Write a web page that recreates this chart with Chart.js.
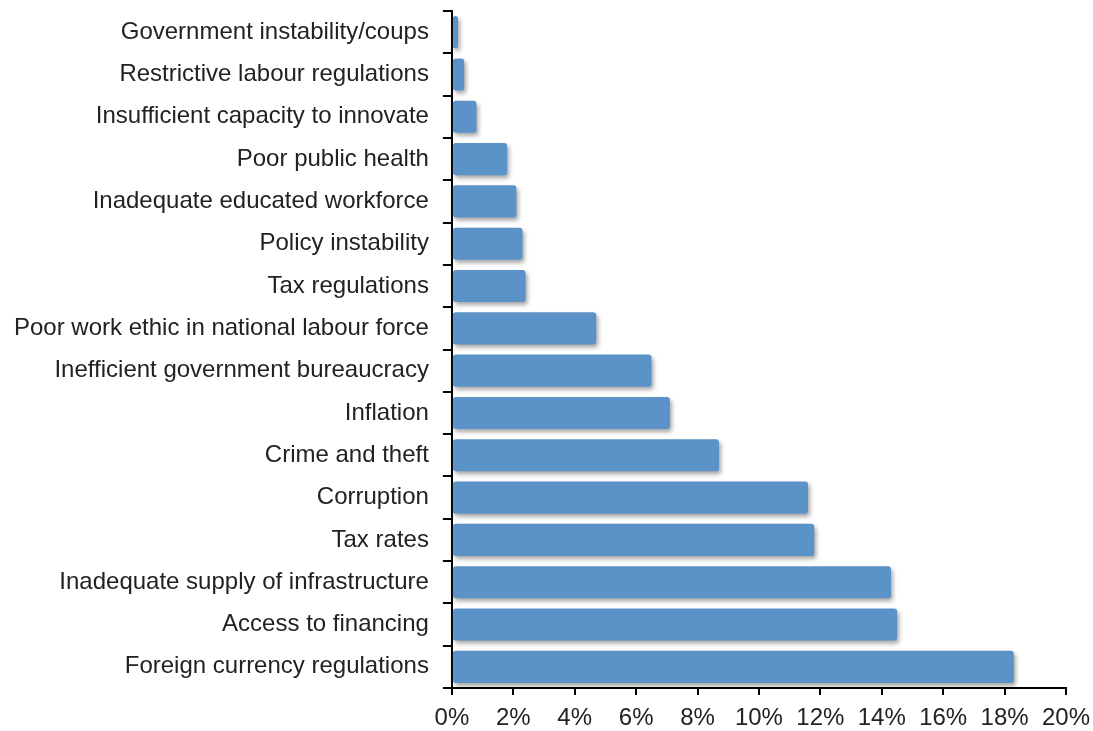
<!DOCTYPE html>
<html lang="en">
<head>
    <meta charset="UTF-8">
    <title>Most problematic factors for doing business</title>
    <script src="https://cdn.jsdelivr.net/npm/chart.js@4"></script>
    <style>
        body { margin: 0; background: #fff; }
    </style>
</head>
<body>
    <canvas id="barChart" width="1093" height="731"></canvas>
    <script>
        // factors, top to bottom
        const factors = [
            'Government instability/coups',
            'Restrictive labour regulations',
            'Insufficient capacity to innovate',
            'Poor public health',
            'Inadequate educated workforce',
            'Policy instability',
            'Tax regulations',
            'Poor work ethic in national labour force',
            'Inefficient government bureaucracy',
            'Inflation',
            'Crime and theft',
            'Corruption',
            'Tax rates',
            'Inadequate supply of infrastructure',
            'Access to financing',
            'Foreign currency regulations'
        ];
        // share of responses, percent
        const shares = [0.2, 0.4, 0.8, 1.8, 2.1, 2.3, 2.4, 4.7, 6.5, 7.1, 8.7, 11.6, 11.8, 14.3, 14.5, 18.3];

        const xMin = 0;
        const xMax = 20;
        const xStep = 2;

        const fontFamily = '"Liberation Sans", Arial, sans-serif';

        // soft drop shadow under the bars
        const barShadow = {
            id: 'barShadow',
            beforeDatasetsDraw(chart) {
                const ctx = chart.ctx;
                ctx.save();
                ctx.shadowColor = 'rgba(0, 0, 0, 0.35)';
                ctx.shadowBlur = 4;
                ctx.shadowOffsetX = 2;
                ctx.shadowOffsetY = 3;
            },
            afterDatasetsDraw(chart) {
                chart.ctx.restore();
            }
        };

        const ctx = document.getElementById('barChart').getContext('2d');
        new Chart(ctx, {
            type: 'bar',
            data: {
                labels: factors,
                datasets: [{
                    data: shares,
                    backgroundColor: '#5b93c8',
                    borderRadius: 3,
                    borderSkipped: false,
                    categoryPercentage: 1,
                    barPercentage: 0.76
                }]
            },
            options: {
                indexAxis: 'y',
                responsive: false,
                animation: false,
                devicePixelRatio: 1,
                layout: { padding: { top: 11, right: 0, bottom: 0, left: 0 } },
                plugins: {
                    legend: { display: false },
                    tooltip: { enabled: false }
                },
                scales: {
                    x: {
                        min: xMin,
                        max: xMax,
                        border: { color: '#000', width: 2 },
                        grid: {
                            drawOnChartArea: false,
                            color: '#000',
                            lineWidth: 2,
                            tickLength: 7
                        },
                        ticks: {
                            stepSize: xStep,
                            color: '#222',
                            padding: 9,
                            maxRotation: 0,
                            font: { family: fontFamily, size: 24 },
                            callback: v => v + '%'
                        },
                        afterFit: s => {
                            s.height = 43;
                            s.paddingRight = 27;
                        }
                    },
                    y: {
                        border: { color: '#000', width: 2 },
                        grid: {
                            drawOnChartArea: false,
                            offset: true,
                            color: '#000',
                            lineWidth: 2,
                            tickLength: 9
                        },
                        ticks: {
                            color: '#222',
                            padding: 14,
                            font: { family: fontFamily, size: 24 }
                        },
                        // bands are offset, so no room is needed for half labels at the ends
                        afterFit: s => {
                            s.paddingTop = 0;
                            s.paddingBottom = 0;
                        }
                    }
                }
            },
            plugins: [barShadow]
        });
    </script>
</body>
</html>
